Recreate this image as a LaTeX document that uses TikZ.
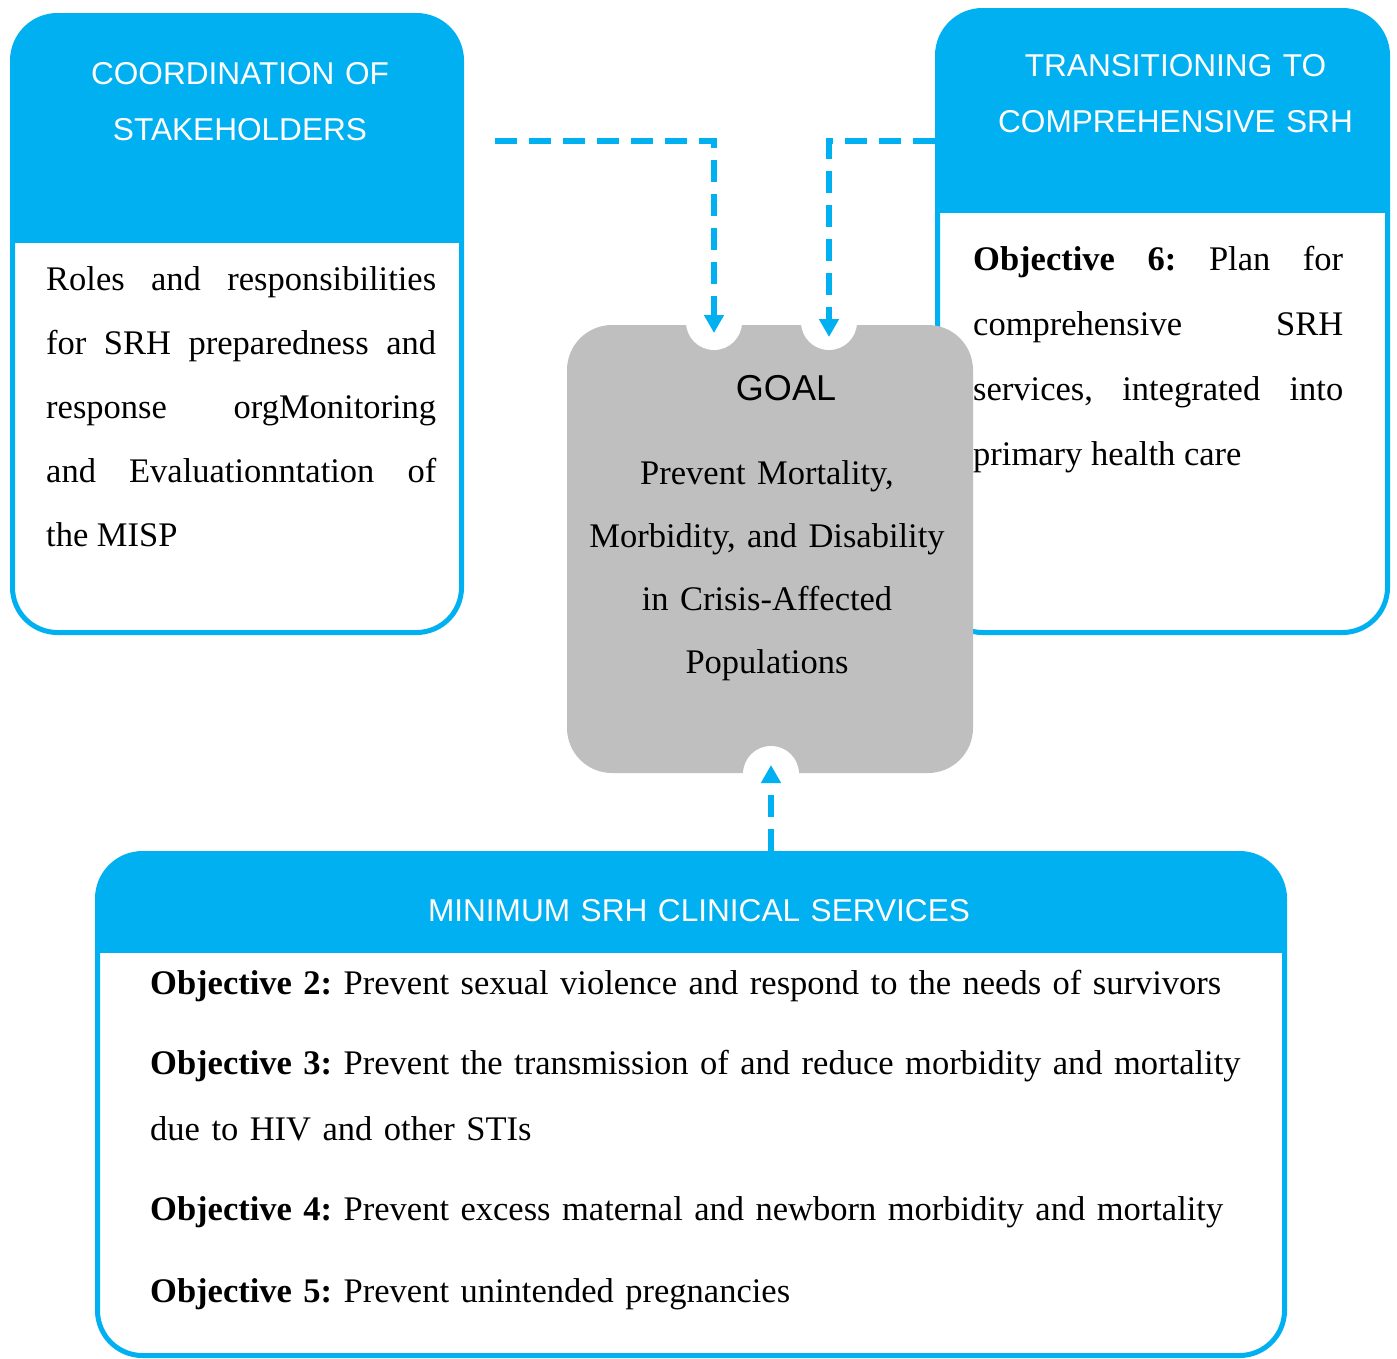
\documentclass[tikz,border=0pt]{standalone}
\usepackage{fontspec}
\setmainfont{Liberation Serif}
\setsansfont{Liberation Sans}
\usetikzlibrary{arrows.meta}

\definecolor{srhblue}{RGB}{0,176,240}
\definecolor{goalgray}{RGB}{191,191,191}

\tikzset{
  panel/.style={draw=srhblue, line width=5pt, fill=white, rounded corners=45pt, inner sep=0pt},
  head/.style={path picture={\fill [srhblue, sharp corners] (path picture bounding box.north west) rectangle ([yshift=-#1]path picture bounding box.north east);}},
  headtext/.style={text=white, font=\sffamily\fontsize{31.6}{56}\selectfont, text width=440pt, align=center, inner sep=0pt, anchor=base},
  bodytext/.style={font=\fontsize{34.5}{64}\selectfont, inner sep=0pt, anchor=base west},
  link/.style={srhblue, line width=6pt, dash pattern=on 22pt off 12pt, -{Triangle[width=19pt,length=18pt]}},
}
\frenchspacing

\begin{document}
\begin{tikzpicture}[x=1pt,y=-1pt]
      \useasboundingbox (0,0) rectangle (1397,1358);

      % the three blue panels
      \node [panel, head=227.5pt, minimum width=449pt, minimum height=617pt] (coord) at (237,324) {};
      \node [panel, head=202.5pt, minimum width=450pt, minimum height=622pt] (trans) at (1162.5,321.5) {};
      \node [panel, head=99.5pt, minimum width=1187pt, minimum height=502pt] (clin) at (691,1104.5) {};

      % goal block with its three notches
      \node [fill=goalgray, rounded corners=45pt, inner sep=0pt, minimum width=406pt, minimum height=448pt] (goal) at (770,549) {};
      \fill [white] (714,322) circle [radius=28pt];
      \fill [white] (829,322) circle [radius=28pt];
      \fill [white] (771,774) circle [radius=28pt];

      \coordinate (coord out) at (495,141);
      \coordinate (goal in1) at (714,333);
      \coordinate (goal in2) at (829,337);
      \coordinate (goal in3) at (771,765);

      \draw [link] (coord out) -| (goal in1);
      \draw [link] (trans.west |- coord out) -| (goal in2);
      \draw [link] (clin.north -| goal in3) -- (goal in3);

      % headings
      \node [headtext] (coordhead) at (240,84) {COORDINATION OF\\ STAKEHOLDERS};
      \node [headtext] (transhead) at (1175.5,76) {TRANSITIONING TO\\ COMPREHENSIVE SRH};
      \node [headtext, text width=1100pt] (clinhead) at (699,921) {MINIMUM SRH CLINICAL SERVICES};
      \node [font=\sffamily\fontsize{36}{40}\selectfont, inner sep=0pt, anchor=base] (goalhead) at (786,400) {GOAL};

      % texts
      \node [bodytext, text width=390pt, align=justify] (coordbody) at (46,290)
        {Roles and responsibilities\linebreak for SRH preparedness and\linebreak response orgMonitoring\linebreak and Evaluationntation of\linebreak the MISP};
      \node [bodytext, text width=370pt, align=justify, font=\fontsize{34.5}{65}\selectfont] (transbody) at (973,270)
        {\textbf{Objective 6:} Plan for\linebreak comprehensive SRH\linebreak services, integrated into\linebreak primary health care};
      \node [bodytext, text width=400pt, align=center, font=\fontsize{34.5}{63}\selectfont, anchor=base] (goalbody) at (767,484)
        {Prevent Mortality,\\ Morbidity, and Disability\\ in Crisis-Affected\\ Populations};

      \node [bodytext, text width=1120pt, align=left] (obj2) at (150,994)
        {\textbf{Objective 2:} Prevent sexual violence and respond to the needs of survivors};
      \node [bodytext, text width=1120pt, align=left, font=\fontsize{34.5}{66}\selectfont] (obj3) at (150,1074)
        {\textbf{Objective 3:} Prevent the transmission of and reduce morbidity and mortality\\ due to HIV and other STIs};
      \node [bodytext, text width=1120pt, align=left] (obj4) at (150,1220)
        {\textbf{Objective 4:} Prevent excess maternal and newborn morbidity and mortality};
      \node [bodytext, text width=1120pt, align=left] (obj5) at (150,1302)
        {\textbf{Objective 5:} Prevent unintended pregnancies};
\end{tikzpicture}
\end{document}
